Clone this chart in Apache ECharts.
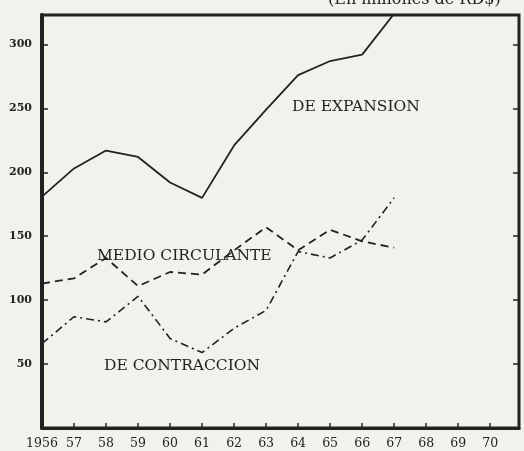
<!DOCTYPE html>
<html>
<head>
<meta charset="utf-8">
<script src="https://cdn.jsdelivr.net/npm/echarts@6/dist/echarts.min.js"></script>
<style>
  html, body { margin: 0; padding: 0; background: #f3f1eb; }
  #chart { width: 524px; height: 451px; }
</style>
</head>
<body>
<div id="chart"></div>
<script>
var years = [1956, 1957, 1958, 1959, 1960, 1961, 1962, 1963, 1964, 1965, 1966, 1967];
// De expansion (linea continua)
var expansion = [181, 203, 217, 212, 192, 180, 221, 249, 276, 287, 292, 324];
// Medio circulante (linea de trazos)
var medio = [113, 117, 133, 111, 122, 120, 139, 157, 139, 155, 146, 141];
// De contraccion (trazo y punto)
var contraccion = [66, 87, 83, 103, 70, 59, 78, 92, 138, 133, 147, 180];

function pairs(vals) {
  return vals.map(function (v, i) { return [years[i], v]; });
}

var ink = "#222";
var serif = "DejaVu Serif";

var chart = echarts.init(document.getElementById("chart"));
var option = {
  backgroundColor: "#f3f1eb",
  animation: false,
  grid: {
    left: 42, right: 5, top: 15, bottom: 23,
    show: true, borderColor: ink, borderWidth: 3, backgroundColor: "transparent"
  },
  xAxis: {
    type: "value",
    min: 1956, max: 1970.9, interval: 1,
    splitLine: { show: false },
    axisLine: { show: true, onZero: false, lineStyle: { color: ink, width: 3 } },
    axisTick: { show: true, inside: true, length: 5, lineStyle: { color: ink, width: 1.5 } },
    axisLabel: {
      color: ink, fontFamily: serif, fontSize: 12.5, margin: 9,
      showMaxLabel: false,
      formatter: function (v) {
        if (v !== Math.round(v)) return "";
        return v === 1956 ? "1956" : String(v).slice(2);
      }
    }
  },
  yAxis: [
    {
      type: "value",
      min: 0, max: 323, interval: 50,
      splitLine: { show: false },
      axisLine: { show: true, lineStyle: { color: ink, width: 4 } },
      axisTick: { show: true, inside: true, length: 6, lineStyle: { color: ink, width: 1.5 } },
      axisLabel: {
        color: ink, fontFamily: serif, fontSize: 11, fontWeight: "bold", margin: 10,
        showMaxLabel: false,
        formatter: function (v) { return v === 0 ? "" : v; }
      }
    },
    {
      type: "value", position: "right",
      min: 0, max: 323, interval: 50,
      splitLine: { show: false },
      axisLine: { show: false },
      axisTick: { show: true, inside: true, length: 6, lineStyle: { color: ink, width: 1.5 } },
      axisLabel: { show: false }
    }
  ],
  series: [
    {
      name: "DE EXPANSION", type: "line", data: pairs(expansion),
      symbol: "none", clip: true,
      lineStyle: { color: ink, width: 1.8 }
    },
    {
      name: "MEDIO CIRCULANTE", type: "line", data: pairs(medio),
      symbol: "none",
      lineStyle: { color: ink, width: 1.8, type: [8, 5] }
    },
    {
      name: "DE CONTRACCION", type: "line", data: pairs(contraccion),
      symbol: "none",
      lineStyle: { color: ink, width: 1.6, type: [8, 4, 2, 4] }
    }
  ],
  graphic: [
    { type: "text", left: 328, top: -8,
      style: { text: "(En millones de RD$)", fill: ink, font: "16px " + serif } },
    { type: "text", left: 292, top: 99,
      style: { text: "DE EXPANSION", fill: ink, font: "15.5px " + serif } },
    { type: "text", left: 97, top: 248,
      style: { text: "MEDIO CIRCULANTE", fill: ink, font: "15.5px " + serif } },
    { type: "text", left: 104, top: 358,
      style: { text: "DE CONTRACCION", fill: ink, font: "15.5px " + serif } }
  ]
};
chart.setOption(option);
</script>
</body>
</html>
